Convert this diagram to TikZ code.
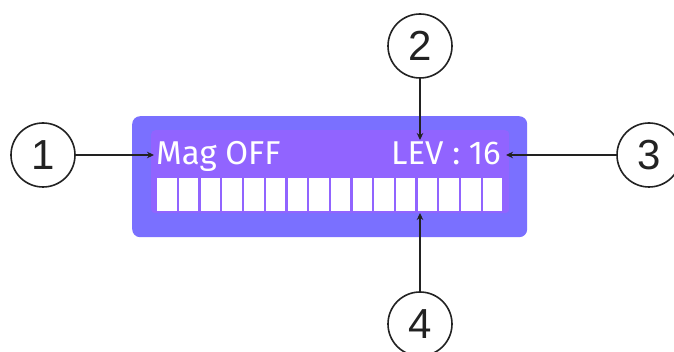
\documentclass[tikz,border=0pt]{standalone}
\usepackage{fontspec}
\setmainfont{Liberation Sans}
\newfontfamily\lcdfont{Fira Sans}
\usetikzlibrary{arrows.meta}
\definecolor{outerc}{RGB}{122,112,255}
\definecolor{innerc}{RGB}{145,100,255}
\definecolor{linec}{RGB}{34,34,34}
\tikzset{
  callout/.style={circle, draw=linec, line width=1.6pt, minimum size=64pt, inner sep=0pt, font=\fontsize{42}{42}\selectfont, text=linec},
  pointer/.style={draw=linec, line width=1.5pt, -{Stealth[length=7pt,width=6.5pt]}},
  lcdtext/.style={inner sep=0pt, text=white, font=\lcdfont\fontsize{33}{33}\selectfont},
  seg/.style={fill=white, draw=none}
}
\begin{document}
\begin{tikzpicture}[x=1pt,y=-1pt]
\useasboundingbox (0,0) rectangle (674,352);
\fill[white] (0,0) rectangle (674,352);
\node[fill=outerc, rounded corners=8pt, minimum width=395pt, minimum height=121pt, inner sep=0pt, anchor=north west] (lcd) at (132,116) {};
\node[fill=innerc, rounded corners=4pt, minimum width=358pt, minimum height=83pt, inner sep=0pt, anchor=north west] (screen) at (151,130) {};
\node[lcdtext, anchor=base west] (mag) at (156,165) {Mag OFF};
\node[lcdtext, anchor=base east] (lev) at (501,165) {LEV : 16};
\foreach \i in {0,...,15} {
  \fill[seg] ({157.3+21.7*\i},178.3) rectangle ({157.3+21.7*\i+19.4},210.7);
}
\coordinate (barpt) at (420,213);
\coordinate (levpt) at (420,140);
\coordinate (magpt) at (154,155);
\coordinate (levr) at (506,155);
\node[callout] (c1) at (43,155) {1};
\node[callout] (c2) at (420,46) {2};
\node[callout] (c3) at (649,155) {3};
\node[callout] (c4) at (420,324) {4};
\draw[pointer] (c1) -- (magpt);
\draw[pointer] (c2) -- (levpt);
\draw[pointer] (c3) -- (levr);
\draw[pointer] (c4) -- (barpt);
\end{tikzpicture}
\end{document}
